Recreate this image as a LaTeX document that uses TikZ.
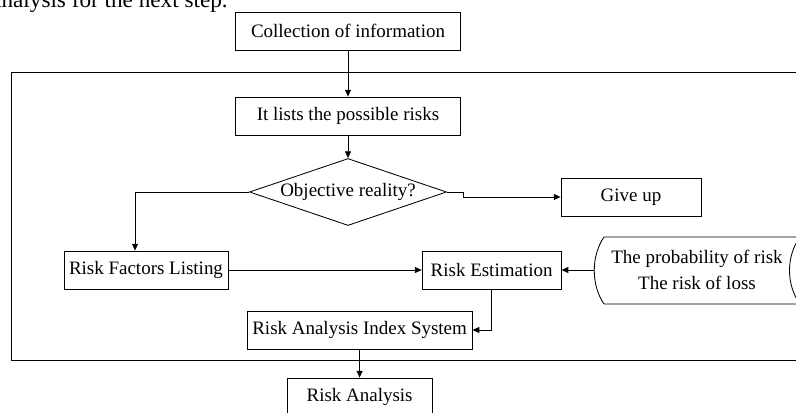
\documentclass[tikz,border=0pt]{standalone}
\usepackage{fontspec}
\setmainfont{Liberation Serif}
\usetikzlibrary{arrows.meta,shapes.geometric,calc}

\begin{document}
\begin{tikzpicture}[
  font=\fontsize{13.5}{19}\selectfont,
  box/.style={draw,line width=0.6pt,minimum height=0.95cm,inner sep=2pt},
  dec/.style={draw,diamond,line width=0.6pt,aspect=2.9,inner sep=0pt,
    minimum width=4.925cm,minimum height=1.675cm},
  arr/.style={-{Triangle[length=1.7mm,width=1.5mm]},line width=0.6pt},
  lnk/.style={line width=0.6pt}]

% page = 796 x 412 px, 1 px = 0.025 cm
\useasboundingbox (0,0) rectangle (19.9,-10.3);
\clip (0,0) rectangle (19.9,-10.3);

% cut-off line of the surrounding text
\node[anchor=base west,inner sep=0pt,font=\fontsize{16.5}{19}\selectfont]
  (txt) at (-0.225,-0.175) {analysis for the next step.};

% outer frame (runs off the right edge)
\draw[lnk] (20,-1.8125) -- (0.275,-1.8125) -- (0.275,-9.0) -- (20,-9.0);

% ---- nodes ----
\node[box,minimum width=5.625cm] (info) at (8.7,-0.775) {Collection of information};
\node[box,minimum width=5.625cm] (lists) at (8.7,-2.9) {It lists the possible risks};
\node[dec] (obj) at (8.7,-4.8) {Objective reality?};
\node[box,minimum width=3.5cm] (giveup) at (15.775,-4.925) {Give up};
\node[box,minimum width=4.1cm] (factors) at (3.65,-6.75) {Risk Factors Listing};
\node[box,minimum width=3.475cm] (estim) at (12.29,-6.75) {Risk Estimation};
\node[align=center,minimum width=5.15cm,minimum height=1.675cm,inner sep=0pt]
  (data) at (17.425,-6.75) {The probability of risk\\The risk of loss};
\node[box,minimum width=5.625cm] (rais) at (8.99,-8.25) {Risk Analysis Index System};
\node[box,minimum width=3.625cm] (analysis) at (8.99,-9.925) {Risk Analysis};

% stored-data outline round the data node
\draw[lnk] (15.1,-5.925) -- (20,-5.925)
  .. controls (19.65,-6.4) and (19.65,-7.125) .. (20,-7.6)
  -- (15.1,-7.6)
  .. controls (14.775,-7.125) and (14.775,-6.4) .. (15.1,-5.925);

% ---- connectors ----
\draw[arr] (info) -- (lists);
\draw[arr] (lists) -- (obj);
\draw[arr] (obj.east) -- ++(0.4,0) |- (giveup);
\draw[arr] (obj.west) -| ([xshift=-0.275cm]factors.north);
\draw[arr] (factors) -- (estim);
\draw[arr] (data) -- (estim);
\draw[arr] (estim) |- (rais);
\draw[arr] (rais) -- (analysis);
\end{tikzpicture}
\end{document}
